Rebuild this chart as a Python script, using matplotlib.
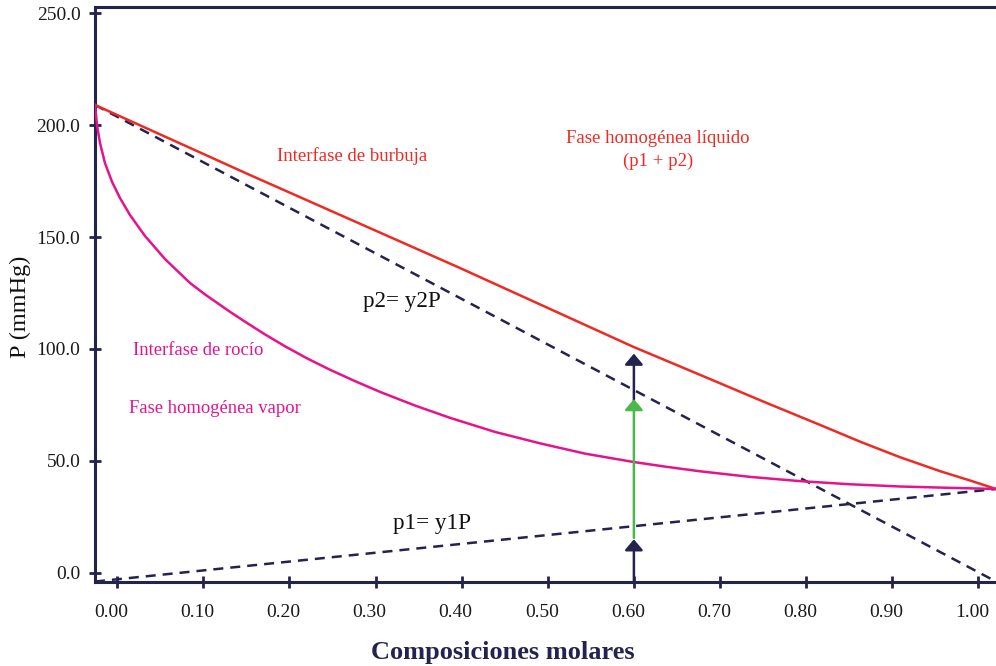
import matplotlib
matplotlib.use("Agg")
import matplotlib.pyplot as plt
import matplotlib.transforms as mtransforms

# ---------------- data ----------------
x_bubble = [-0.0258, 0.154, 0.398, 0.599, 0.677, 0.747, 0.817, 0.863,
            0.909, 0.956, 0.991, 1.0205]
p_bubble = [209.1, 177.8, 136.2, 101.0, 88.4, 77.0, 65.9, 58.5,
            51.6, 45.3, 41.1, 37.4]

x_dew = [-0.0258, -0.0235, -0.0200, -0.0142, -0.0060, 0.0032, 0.0148, 0.0323,
         0.0555, 0.0845, 0.1019, 0.1194, 0.1333, 0.1484, 0.1716, 0.1948,
         0.2204, 0.2471, 0.2762, 0.3052, 0.3458, 0.3865, 0.4387, 0.4910,
         0.5432, 0.5990, 0.6361, 0.6768, 0.7349, 0.7929, 0.8510, 0.9091,
         0.9672, 1.0205]
p_dew = [209.1, 200.1, 192.1, 183.1, 174.7, 167.5, 159.9, 150.5,
         140.2, 129.5, 124.4, 119.7, 116.0, 112.2, 106.5, 101.2,
         95.8, 90.7, 85.6, 80.8, 74.7, 69.2, 62.9, 57.8,
         53.2, 49.5, 47.4, 45.3, 42.8, 40.9, 39.5, 38.5,
         37.9, 37.4]

x_partial = [-0.0258, 1.0205]
p2_line = [209.1, -4.0]
p1_line = [-4.0, 37.4]

x_arrow = 0.60
arrow_p1 = (-4.2, 14.9)     # 0 -> p1
arrow_green = (15.5, 77.6)  # p1 -> p2
arrow_total = (77.0, 97.9)  # -> P

y_ticks = [0.0, 50.0, 100.0, 150.0, 200.0, 250.0]
x_ticks = [0.00, 0.10, 0.20, 0.30, 0.40, 0.50, 0.60, 0.70, 0.80, 0.90, 1.00]

# ---------------- style ----------------
NAVY = "#24234d"
RED = "#ee2a24"
PINK = "#e6138c"
GREEN = "#4db848"
FONT = ["Liberation Serif", "DejaVu Serif"]
plt.rcParams["font.family"] = FONT

fig = plt.figure(figsize=(9.96, 6.66), dpi=100)
ax = fig.add_axes([95 / 996, 1 - 582 / 666, 1 - 95 / 996, (582 - 7) / 666])

ax.plot(x_partial, p2_line, color=NAVY, lw=1.8, dashes=(4, 2.8), zorder=2)
ax.plot(x_partial, p1_line, color=NAVY, lw=1.8, dashes=(4, 2.8), zorder=2)
ax.plot(x_bubble, p_bubble, color=RED, lw=1.8, zorder=3,
        solid_joinstyle="round")
ax.plot(x_dew, p_dew, color=PINK, lw=1.8, zorder=3, solid_joinstyle="round")

def arrow(y0, y1, color, z):
    ax.annotate("", xy=(x_arrow, y1), xytext=(x_arrow, y0),
                arrowprops=dict(arrowstyle="-|>,head_length=0.65,head_width=0.55",
                                color=color, lw=1.8, shrinkA=0, shrinkB=0),
                zorder=z)

arrow(*arrow_p1, NAVY, 4)
arrow(*arrow_total, NAVY, 4)
arrow(*arrow_green, GREEN, 5)

ax.set_xlim(-0.0258, 1.0205)
ax.set_ylim(-4.2, 252.9)

ax.set_yticks(y_ticks)
ax.set_yticklabels([f"{v:.1f}" for v in y_ticks])
ax.set_xticks(x_ticks)
ax.set_xticklabels([f"{v:.2f}" for v in x_ticks])

for s in ["left", "bottom", "top"]:
    ax.spines[s].set_color(NAVY)
    ax.spines[s].set_linewidth(2.2)
ax.spines["right"].set_visible(False)

ax.tick_params(axis="both", direction="inout", length=9, width=2, color=NAVY,
               labelsize=14, labelcolor="#1a1a1a")
ax.tick_params(axis="x", pad=11)
ax.tick_params(axis="y", pad=6)

shift = mtransforms.ScaledTranslation(-6 / 100, 0, fig.dpi_scale_trans)
for lab in ax.get_xticklabels():
    lab.set_transform(lab.get_transform() + shift)

ax.set_ylabel("P (mmHg)", fontsize=17.5, color="#111111")
ax.yaxis.set_label_coords(-0.071, 0.478)
ax.set_xlabel("Composiciones molares", fontsize=19, fontweight="bold",
              color=NAVY)
ax.xaxis.set_label_coords(0.453, -0.102)

ax.text(0.2727, 186.3, "Interfase de burbuja", color=RED, fontsize=13.5,
        ha="center", va="center")
ax.text(0.628, 189.0, "Fase homogénea líquido\n(p1 + p2)", color=RED,
        fontsize=13.5, ha="center", va="center", linespacing=1.45)
ax.text(0.331, 121.0, "p2= y2P", color="#111111", fontsize=16.7,
        ha="center", va="center")
ax.text(0.0939, 99.1, "Interfase de rocío", color=PINK, fontsize=13.4,
        ha="center", va="center")
ax.text(0.1136, 73.2, "Fase homogénea vapor", color=PINK, fontsize=13.4,
        ha="center", va="center")
ax.text(0.3656, 21.8, "p1= y1P", color="#111111", fontsize=16.7,
        ha="center", va="center")

fig.savefig("out.png", dpi=100)
